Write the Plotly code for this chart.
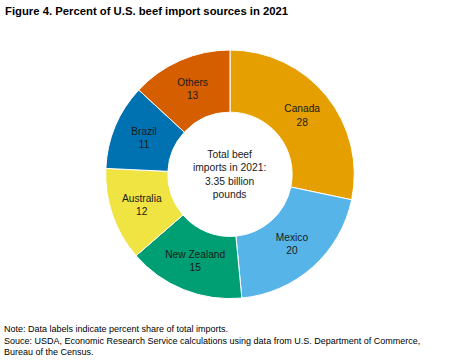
import plotly.graph_objects as go

sources = ["Canada", "Mexico", "New Zealand", "Australia", "Brazil", "Others"]
shares = [28, 20, 15, 12, 11, 13]
colors = ["#E69F00", "#56B4E9", "#009E73", "#F0E442", "#0072B2", "#D55E00"]

W, H = 450, 360
cx, cy, r = 230, 174.3, 124.3

fig = go.Figure(go.Pie(
    labels=sources, values=shares, sort=False, direction="clockwise", rotation=0,
    hole=0.5,
    marker=dict(colors=colors, line=dict(color="white", width=1)),
    texttemplate="%{label}<br>%{value}", textposition="inside",
    insidetextorientation="horizontal",
    textfont=dict(family="Arial, Liberation Sans", size=10.2, color="#1a1a1a"),
    domain=dict(x=[(cx - r) / W, (cx + r) / W], y=[1 - (cy + r) / H, 1 - (cy - r) / H]),
    showlegend=False,
))

fig.add_annotation(
    text="Total beef<br>imports in 2021:<br>3.35 billion<br>pounds",
    x=cx / W, y=1 - cy / H, xref="paper", yref="paper", showarrow=False,
    font=dict(family="Arial, Liberation Sans", size=10.3, color="#1a1a1a"),
)

fig.add_annotation(
    text="<b>Figure 4. Percent of U.S. beef import sources in 2021</b>",
    x=3 / W, y=1 - 3 / H, xref="paper", yref="paper", xanchor="left", yanchor="top",
    showarrow=False, font=dict(family="Arial, Liberation Sans", size=11.3, color="black"),
)

fig.add_annotation(
    text="Note: Data labels indicate percent share of total imports.<br>"
         "Souce: USDA, Economic Research Service calculations using data from U.S. Department of Commerce,<br>"
         "Bureau of the Census.",
    x=2 / W, y=1 - 359 / H, xref="paper", yref="paper", xanchor="left", yanchor="bottom",
    showarrow=False, align="left",
    font=dict(family="Arial, Liberation Sans", size=9, color="black"),
)

fig.update_layout(
    width=W, height=H, margin=dict(l=0, r=0, t=0, b=0),
    paper_bgcolor="white", plot_bgcolor="white",
    uniformtext=dict(minsize=10.2, mode="show"),
)

fig.write_html("out.html", config={"displayModeBar": False},
               post_script="document.body.style.margin='0';")
